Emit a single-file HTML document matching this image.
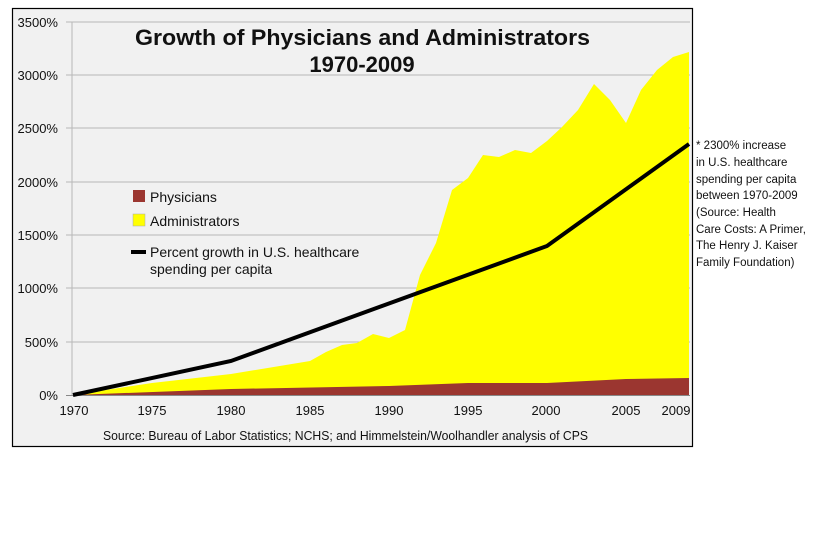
<!DOCTYPE html>
<html><head><style>
body{margin:0;background:#fff;}
svg text{font-family:"Liberation Sans",Arial,sans-serif;}
</style></head><body>
<svg width="819" height="551" viewBox="0 0 819 551" xmlns="http://www.w3.org/2000/svg">
<rect x="12.5" y="8.5" width="680" height="438" fill="#f1f1f1" stroke="#000" stroke-width="1.2"/>
<g stroke="#b8b8b8" stroke-width="1">
<line x1="66" y1="22" x2="690" y2="22"/>
<line x1="66" y1="75" x2="690" y2="75"/>
<line x1="66" y1="128" x2="690" y2="128"/>
<line x1="66" y1="182" x2="690" y2="182"/>
<line x1="66" y1="235" x2="690" y2="235"/>
<line x1="66" y1="288" x2="690" y2="288"/>
<line x1="66" y1="342" x2="690" y2="342"/>
<line x1="72" y1="22" x2="72" y2="395"/>
</g>
<polygon fill="#ffff00" points="73,395 152,383 231,374 310,361 326,352 342,345 357,343 373,334 389,338 405,330 420,275 436,243 452,190 468,178 483,155 499,157 515,150 531,153 547,141 562,127 578,110 594,84 610,100 626,123 641,90 657,70 673,57 689,52 689,395"/>
<polygon fill="#9b3630" points="73,395 231,389 389,386 468,383 547,383 626,379 689,378 689,395"/>
<line x1="66" y1="395.5" x2="690" y2="395.5" stroke="#888" stroke-width="1"/>
<polyline fill="none" stroke="#000" stroke-width="4" points="73,395 231,361 547,246 689,144"/>
<g font-size="13" text-anchor="end" fill="#111">
<text x="58" y="27">3500%</text><text x="58" y="80">3000%</text><text x="58" y="133">2500%</text>
<text x="58" y="187">2000%</text><text x="58" y="240">1500%</text><text x="58" y="293">1000%</text>
<text x="58" y="347">500%</text><text x="58" y="400">0%</text>
</g>
<g font-size="13" text-anchor="middle" fill="#111">
<text x="74" y="415">1970</text><text x="152" y="415">1975</text><text x="231" y="415">1980</text>
<text x="310" y="415">1985</text><text x="389" y="415">1990</text><text x="468" y="415">1995</text>
<text x="546" y="415">2000</text><text x="626" y="415">2005</text><text x="676" y="415">2009</text>
</g>
<text x="103" y="440" font-size="12.5" textLength="485" lengthAdjust="spacingAndGlyphs" fill="#111">Source: Bureau of Labor Statistics; NCHS; and Himmelstein/Woolhandler analysis of CPS</text>
<text x="135" y="45" font-size="22" font-weight="bold" textLength="455" lengthAdjust="spacingAndGlyphs" fill="#111">Growth of Physicians and Administrators</text>
<text x="362" y="72" font-size="22" font-weight="bold" text-anchor="middle" fill="#111">1970-2009</text>
<rect x="133" y="190" width="12" height="12" fill="#9b3630"/>
<text x="150" y="202" font-size="14" fill="#111">Physicians</text>
<rect x="133" y="214" width="12" height="12" fill="#ffff00" stroke="#aaa" stroke-width="0.5"/>
<text x="150" y="226" font-size="14" fill="#111">Administrators</text>
<rect x="131" y="250" width="15" height="4" fill="#000"/>
<text x="150" y="257" font-size="14" fill="#111">Percent growth in U.S. healthcare</text>
<text x="150" y="274" font-size="14" fill="#111">spending per capita</text>
<g font-size="11.5" fill="#111">
<text x="696" y="149">* 2300% increase</text>
<text x="696" y="166">in U.S. healthcare</text>
<text x="696" y="183">spending per capita</text>
<text x="696" y="199">between 1970-2009</text>
<text x="696" y="216">(Source: Health</text>
<text x="696" y="233">Care Costs: A Primer,</text>
<text x="696" y="249">The Henry J. Kaiser</text>
<text x="696" y="266">Family Foundation)</text>
</g>
</svg>
</body></html>
